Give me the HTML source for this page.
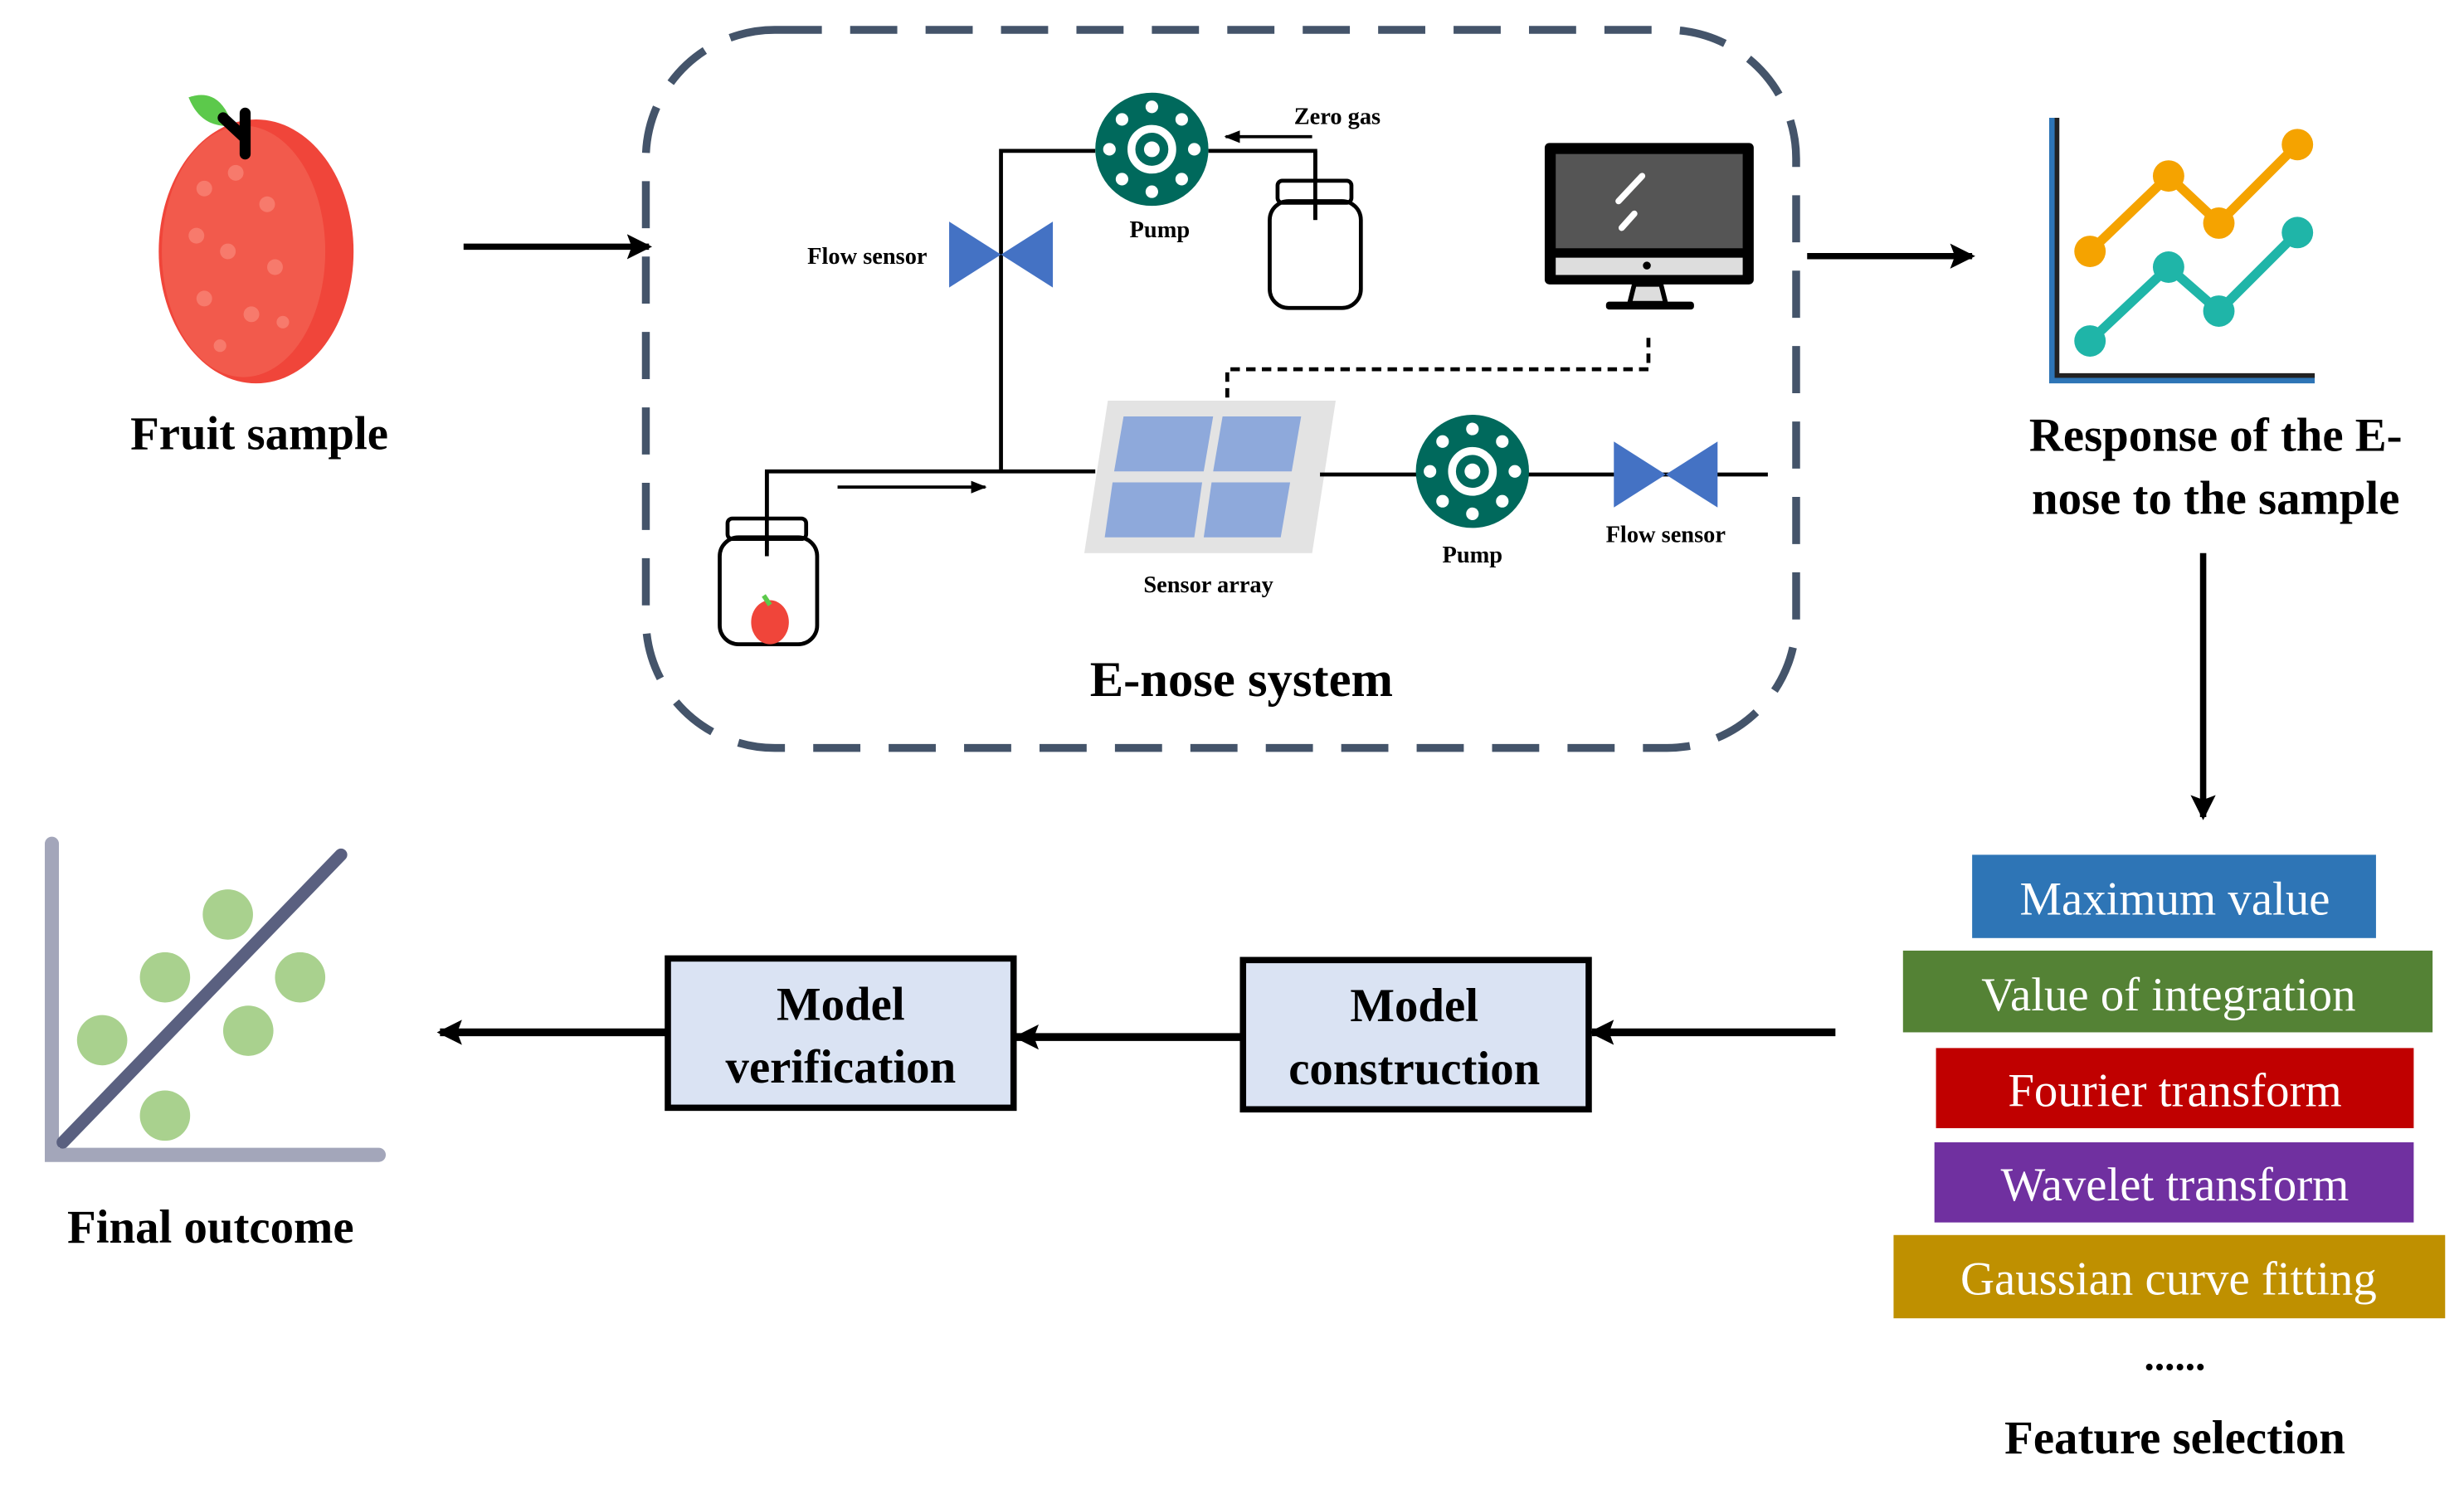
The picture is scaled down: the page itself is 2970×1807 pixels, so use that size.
<!DOCTYPE html>
<html><head><meta charset="utf-8"><style>html,body{margin:0;padding:0;background:#fff}svg{display:block}</style></head>
<body>
<svg width="2970" height="1807" viewBox="0 0 1568 954" preserveAspectRatio="none" xmlns="http://www.w3.org/2000/svg" font-family="Liberation Serif, serif">
<defs>
<marker id="ahs" markerWidth="10" markerHeight="8" refX="9" refY="4" orient="auto" markerUnits="userSpaceOnUse"><path d="M0,0 L10,4 L0,8 z" fill="#000"/></marker>
<marker id="ahb" markerWidth="16" markerHeight="16" refX="14" refY="8" orient="auto" markerUnits="userSpaceOnUse"><path d="M0,0 L16,8 L0,16 L3,8 z" fill="#000"/></marker>
<g id="pump"><circle r="36" fill="#00695C"/><circle r="13" fill="none" stroke="#fff" stroke-width="5"/><circle r="5" fill="#fff"/>
<g fill="#fff"><circle cx="0" cy="-27" r="4"/><circle cx="0" cy="27" r="4"/><circle cx="-27" cy="0" r="4"/><circle cx="27" cy="0" r="4"/><circle cx="19" cy="19" r="4"/><circle cx="-19" cy="19" r="4"/><circle cx="19" cy="-19" r="4"/><circle cx="-19" cy="-19" r="4"/></g></g>
<g id="valve"><path d="M-33,-21 L0,0 L-33,21 z M33,-21 L0,0 L33,21 z" fill="#4472C4"/></g>
</defs>

<!-- apple -->
<ellipse cx="163" cy="160" rx="62" ry="84" fill="#F0453A"/>
<ellipse cx="155" cy="160" rx="52" ry="80" fill="#F25A4C"/>
<g fill="#F77A6C"><circle cx="130" cy="120" r="5"/><circle cx="150" cy="110" r="5"/><circle cx="170" cy="130" r="5"/><circle cx="125" cy="150" r="5"/><circle cx="145" cy="160" r="5"/><circle cx="175" cy="170" r="5"/><circle cx="130" cy="190" r="5"/><circle cx="160" cy="200" r="5"/><circle cx="140" cy="220" r="4"/><circle cx="180" cy="205" r="4"/></g>
<path d="M120,62 Q140,55 148,80 Q128,82 120,62 z" fill="#5CC94B"/>
<path d="M142,75 L156,88 L156,98 M156,88 L156,72" stroke="#000" stroke-width="7" fill="none" stroke-linecap="round"/>
<text x="165" y="286" font-size="30" font-weight="bold" text-anchor="middle">Fruit sample</text>
<line x1="295" y1="157" x2="413" y2="157" stroke="#000" stroke-width="4" marker-end="url(#ahb)"/>

<!-- dashed box -->
<rect x="411" y="19" width="732" height="457" rx="82" fill="none" stroke="#44546A" stroke-width="5" stroke-dasharray="30 18"/>

<!-- top piping -->
<polyline points="697,96 637,96 637,300" fill="none" stroke="#000" stroke-width="2.5"/>
<use href="#valve" x="637" y="162"/>
<text x="590" y="168" font-size="15" font-weight="bold" text-anchor="end">Flow sensor</text>
<use href="#pump" x="733" y="95"/>
<text x="738" y="151" font-size="15" font-weight="bold" text-anchor="middle">Pump</text>
<polyline points="769,96 837,96 837,140" fill="none" stroke="#000" stroke-width="2.5"/>
<line x1="835" y1="87" x2="780" y2="87" stroke="#000" stroke-width="2" marker-end="url(#ahs)"/>
<text x="851" y="79" font-size="15" font-weight="bold" text-anchor="middle">Zero gas</text>
<rect x="813" y="115" width="47" height="14" rx="3" fill="#fff" stroke="#000" stroke-width="2.5"/>
<rect x="808" y="128" width="58" height="68" rx="12" fill="none" stroke="#000" stroke-width="2.5"/>
<line x1="837" y1="96" x2="837" y2="140" stroke="#000" stroke-width="2.5"/>

<!-- monitor -->
<rect x="983" y="91" width="133" height="90" rx="3" fill="#000"/>
<rect x="990" y="98" width="119" height="60" fill="#555"/>
<rect x="990" y="164" width="119" height="11" fill="#ddd"/>
<circle cx="1048" cy="169" r="2.5" fill="#000"/>
<path d="M1040,181 L1057,181 L1060,193 L1037,193 z" fill="#ddd" stroke="#000" stroke-width="3"/>
<rect x="1022" y="192" width="56" height="5" rx="2" fill="#000"/>
<path d="M1030,128 L1045,112 M1032,145 L1040,136" stroke="#fff" stroke-width="4" stroke-linecap="round"/>
<polyline points="1049,215 1049,235 781,235 781,255" fill="none" stroke="#000" stroke-width="2.5" stroke-dasharray="6 4"/>

<!-- sensor array -->
<path d="M705,255 L850,255 L835,352 L690,352 z" fill="#E3E3E3"/>
<path d="M715,265 L772,265 L766,300 L709,300 z M778,265 L828,265 L822,300 L772,300 z M708,307 L765,307 L760,342 L703,342 z M771,307 L821,307 L815,342 L766,342 z" fill="#8EA9DB"/>
<text x="769" y="377" font-size="15" font-weight="bold" text-anchor="middle">Sensor array</text>

<!-- left jar & line -->
<polyline points="488,350 488,300 697,300" fill="none" stroke="#000" stroke-width="2.5"/>
<line x1="533" y1="310" x2="627" y2="310" stroke="#000" stroke-width="2" marker-end="url(#ahs)"/>
<rect x="463" y="330" width="50" height="13" rx="3" fill="#fff" stroke="#000" stroke-width="2.5"/>
<rect x="458" y="342" width="62" height="68" rx="12" fill="none" stroke="#000" stroke-width="2.5"/>
<line x1="488" y1="300" x2="488" y2="354" stroke="#000" stroke-width="2.5"/>
<ellipse cx="490" cy="396" rx="12" ry="14" fill="#F0453A"/>
<path d="M486,379 L490,385" stroke="#5CC94B" stroke-width="3"/>

<!-- bottom line -->
<line x1="840" y1="302" x2="1125" y2="302" stroke="#000" stroke-width="2.5"/>
<use href="#pump" x="937" y="300"/>
<text x="937" y="358" font-size="15" font-weight="bold" text-anchor="middle">Pump</text>
<use href="#valve" x="1060" y="302"/>
<text x="1060" y="345" font-size="15" font-weight="bold" text-anchor="middle">Flow sensor</text>
<text x="790" y="443" font-size="32" font-weight="bold" text-anchor="middle">E-nose system</text>

<line x1="1150" y1="163" x2="1255" y2="163" stroke="#000" stroke-width="4" marker-end="url(#ahb)"/>

<!-- response chart -->
<polyline points="1307,75 1307,241 1473,241" fill="none" stroke="#2E75B6" stroke-width="6"/>
<polyline points="1309,75 1309,239 1473,239" fill="none" stroke="#222" stroke-width="3"/>
<polyline points="1330,160 1380,112 1412,142 1462,92" fill="none" stroke="#F5A300" stroke-width="6"/>
<g fill="#F5A300"><circle cx="1330" cy="160" r="10"/><circle cx="1380" cy="112" r="10"/><circle cx="1412" cy="142" r="10"/><circle cx="1462" cy="92" r="10"/></g>
<polyline points="1330,217 1380,170 1412,198 1462,148" fill="none" stroke="#1FB5A8" stroke-width="6"/>
<g fill="#1FB5A8"><circle cx="1330" cy="217" r="10"/><circle cx="1380" cy="170" r="10"/><circle cx="1412" cy="198" r="10"/><circle cx="1462" cy="148" r="10"/></g>
<text x="1410" y="287" font-size="30" font-weight="bold" text-anchor="middle">Response of the E-</text>
<text x="1410" y="327" font-size="30" font-weight="bold" text-anchor="middle">nose to the sample</text>
<line x1="1402" y1="352" x2="1402" y2="520" stroke="#000" stroke-width="4" marker-end="url(#ahb)"/>

<!-- features -->
<rect x="1255" y="544" width="257" height="53" fill="#2E75B6"/>
<text x="1384" y="582" font-size="30" fill="#fff" text-anchor="middle">Maximum value</text>
<rect x="1211" y="605" width="337" height="52" fill="#548235"/>
<text x="1380" y="643" font-size="30" fill="#fff" text-anchor="middle">Value of integration</text>
<rect x="1232" y="667" width="304" height="51" fill="#C00000"/>
<text x="1384" y="704" font-size="30" fill="#fff" text-anchor="middle">Fourier transform</text>
<rect x="1231" y="727" width="305" height="51" fill="#7030A0"/>
<text x="1384" y="764" font-size="30" fill="#fff" text-anchor="middle">Wavelet transform</text>
<rect x="1205" y="786" width="351" height="53" fill="#BF9000"/>
<text x="1380" y="824" font-size="30" fill="#fff" text-anchor="middle">Gaussian curve fitting</text>
<text x="1384" y="872" font-size="26" font-weight="bold" text-anchor="middle">......</text>
<text x="1384" y="925" font-size="30" font-weight="bold" text-anchor="middle">Feature selection</text>

<!-- model boxes -->
<line x1="1168" y1="657" x2="1013" y2="657" stroke="#000" stroke-width="5" marker-end="url(#ahb)"/>
<rect x="791" y="611" width="220" height="95" fill="#DAE3F3" stroke="#000" stroke-width="4"/>
<text x="900" y="650" font-size="30" font-weight="bold" text-anchor="middle">Model</text>
<text x="900" y="690" font-size="30" font-weight="bold" text-anchor="middle">construction</text>
<line x1="790" y1="660" x2="647" y2="660" stroke="#000" stroke-width="5" marker-end="url(#ahb)"/>
<rect x="425" y="610" width="220" height="95" fill="#DAE3F3" stroke="#000" stroke-width="4"/>
<text x="535" y="649" font-size="30" font-weight="bold" text-anchor="middle">Model</text>
<text x="535" y="689" font-size="30" font-weight="bold" text-anchor="middle">verification</text>
<line x1="424" y1="657" x2="280" y2="657" stroke="#000" stroke-width="5" marker-end="url(#ahb)"/>

<!-- final outcome -->
<polyline points="33,537 33,735 241,735" fill="none" stroke="#A3A6BA" stroke-width="9" stroke-linecap="round"/>
<g fill="#A9D18E"><circle cx="145" cy="582" r="16"/><circle cx="105" cy="622" r="16"/><circle cx="191" cy="622" r="16"/><circle cx="65" cy="662" r="16"/><circle cx="158" cy="656" r="16"/><circle cx="105" cy="710" r="16"/></g>
<line x1="40" y1="727" x2="217" y2="544" stroke="#5A6080" stroke-width="8" stroke-linecap="round"/>
<text x="134" y="791" font-size="30" font-weight="bold" text-anchor="middle">Final outcome</text>
</svg>
</body></html>
